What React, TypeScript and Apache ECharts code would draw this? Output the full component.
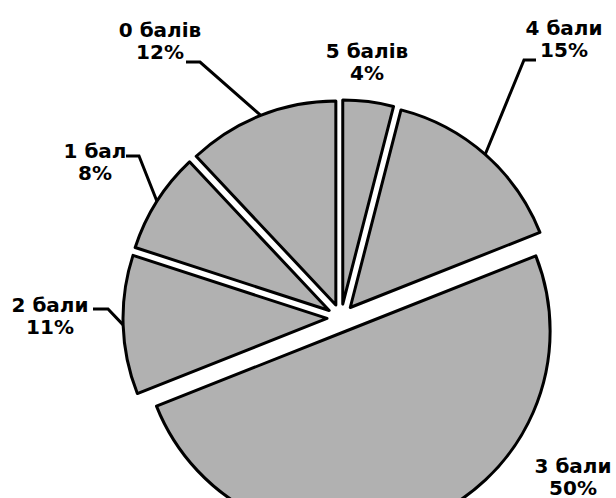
import React, { useEffect, useRef } from 'react';
import * as echarts from 'echarts';

const categories = ['5 балів', '4 бали', '3 бали', '2 бали', '1 бал', '0 балів'];
const percents = [4, 15, 50, 11, 8, 12];

const PIE_CENTER: [number, number] = [341, 318];
const PIE_RADIUS = 204;
const EXPLODE = 14;

// label block centres in px
const labelCenters: [number, number][] = [
  [367, 61.5],
  [564, 39],
  [573, 476.5],
  [50, 316],
  [95, 162],
  [160, 40.5],
];
// leader line: [end, elbow] offsets from label centre (null = no leader)
const leaders: ([number, number][] | null)[] = [
  null,
  [[-28, 21], [-40, 21]],
  null,
  [[43, -7], [58, -7]],
  [[31, -6], [44, -6]],
  [[26, 21.5], [40, 21.5]],
];

export default function App() {
  const ref = useRef<HTMLDivElement>(null);
  useEffect(() => {
    if (!ref.current) return;
    const chart = echarts.init(ref.current, undefined, { renderer: 'svg' });
    const itemStyle = { color: '#b1b1b1', borderColor: '#000', borderWidth: 3 };
    const data = categories.map((name, i) => ({ name, value: percents[i] }));
    chart.setOption({
      animation: false,
      backgroundColor: '#fff',
      series: [
        {
          type: 'pie',
          center: PIE_CENTER,
          radius: PIE_RADIUS,
          startAngle: 90,
          clockwise: true,
          selectedMode: 'multiple',
          selectedOffset: EXPLODE,
          itemStyle,
          select: { itemStyle },
          emphasis: { disabled: true },
          label: { show: false },
          labelLine: { show: false },
          data: data.map((d) => ({ ...d, selected: true })),
        },
        {
          type: 'pie',
          center: PIE_CENTER,
          radius: PIE_RADIUS,
          startAngle: 90,
          clockwise: true,
          silent: true,
          avoidLabelOverlap: false,
          z: 3,
          itemStyle: { color: 'rgba(0,0,0,0)', borderWidth: 0 },
          emphasis: { disabled: true },
          label: {
            show: true,
            position: 'outside',
            formatter: '{b}\n{c}%',
            color: '#000',
            fontFamily: 'DejaVu Sans',
            fontWeight: 'bold',
            fontSize: 20,
            lineHeight: 22,
            align: 'center',
          },
          labelLine: {
            show: true,
            length: 20,
            length2: 10,
            lineStyle: { color: '#000', width: 3 },
          },
          labelLayout: (p: any) => {
            const i = p.dataIndex;
            const [cx, cy] = labelCenters[i];
            const res: any = { x: cx, y: cy, align: 'center', verticalAlign: 'middle' };
            const ld = leaders[i];
            if (ld && p.labelLinePoints) {
              const e = p.labelLinePoints[0];
              const vx = e[0] - PIE_CENTER[0];
              const vy = e[1] - PIE_CENTER[1];
              const len = Math.sqrt(vx * vx + vy * vy) || 1;
              res.labelLinePoints = [
                [e[0] + (vx / len) * EXPLODE, e[1] + (vy / len) * EXPLODE],
                [cx + ld[1][0], cy + ld[1][1]],
                [cx + ld[0][0], cy + ld[0][1]],
              ];
            }
            return res;
          },
          data: data.map((d, i) => ({ ...d, labelLine: { show: leaders[i] !== null } })),
        },
      ],
    });
    return () => chart.dispose();
  }, []);
  return (
    <div
      ref={ref}
      style={{ position: 'fixed', left: 0, top: 0, width: 616, height: 498, background: '#fff' }}
    />
  );
}
